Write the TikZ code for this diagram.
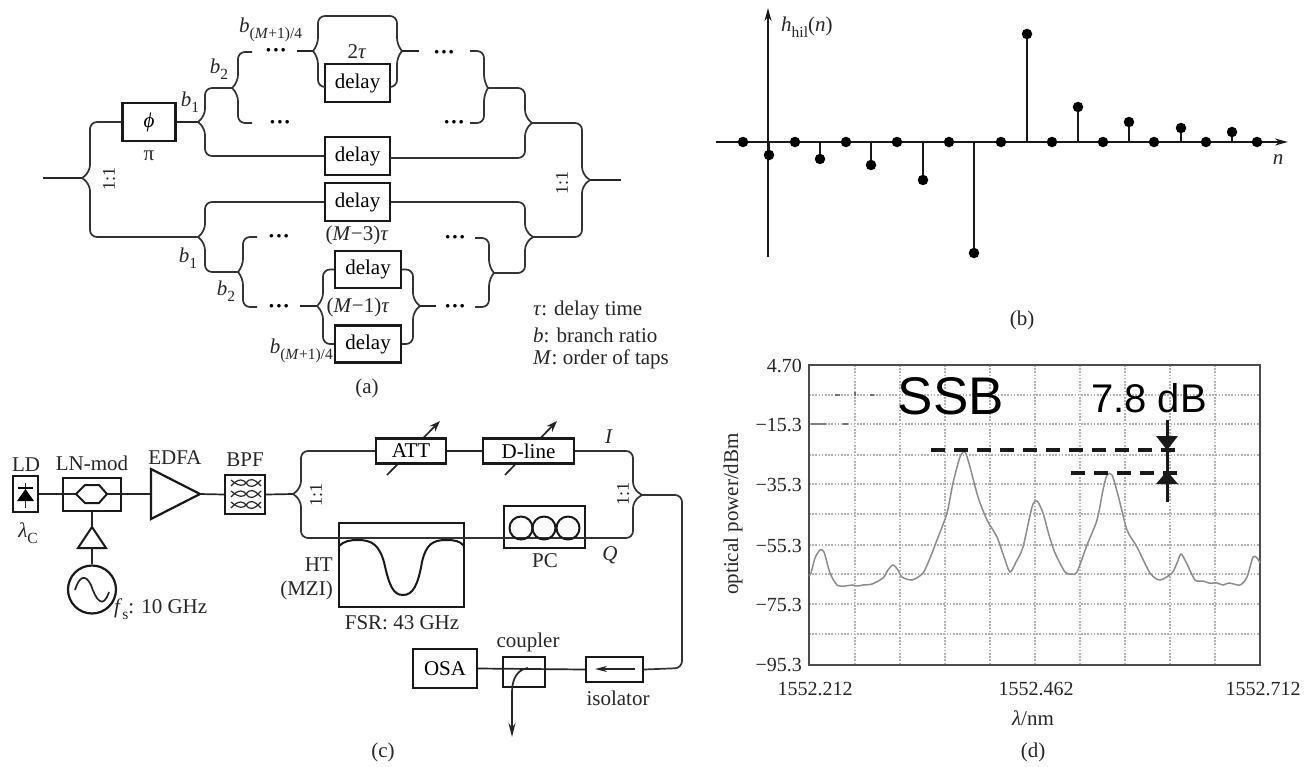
\documentclass[tikz,border=0pt]{standalone}
\usepackage{fontspec}
\setmainfont{Liberation Serif}
\newfontfamily\sansf{Liberation Sans}
\usetikzlibrary{arrows.meta}
\newcommand{\itx}[1]{\textit{#1}}
\newcommand{\subx}[1]{\raisebox{-.28em}{\fontsize{15.5}{15.5}\selectfont #1}}
\newcommand{\forkline}[4]{\draw[wire] (#1) -- ++(#2,#3) |- (#4);}
\tikzset{
  x=1pt,y=-1pt,
  wire/.style={line width=1.7pt,color=black!80,rounded corners=7pt},
  plain/.style={line width=1.7pt,color=black!85},
  dbox/.style={draw=black!90,line width=2.2pt,inner sep=0pt,fill=white,font=\fontsize{21}{24}\selectfont},
  obox/.style={draw=black!90,line width=2.2pt,inner sep=0pt},
  lab/.style={inner sep=0pt,text=black!85,font=\fontsize{21}{24}\selectfont},
  ticklab/.style={inner sep=0pt,text=black!85,font=\fontsize{20}{24}\selectfont},
  ratio/.style={inner sep=0pt,text=black!85,font=\fontsize{18}{20}\selectfont,rotate=90},
  dotsn/.style={inner sep=0pt,font=\bfseries\fontsize{22}{22}\selectfont},
  griddot/.style={line width=1.2pt,color=black!30,dash pattern=on 1.6pt off 1.6pt},
  stem/.style={line width=1.7pt,color=black!90},
  blob/.style={circle,fill=black,inner sep=0pt,minimum size=10.5pt},
  thickdash/.style={line width=3.2pt,color=black!90,dash pattern=on 13.5pt off 9.5pt},
}
\begin{document}
\begin{tikzpicture}
\useasboundingbox (0,0) rectangle (1314,766);
% ======= (a) =======
\node[dbox,minimum width=53,minimum height=38] (phi) at (149,122) {\itx{ϕ}};
\node[dbox,minimum width=65,minimum height=38] (d1) at (357.5,83) {delay};
\node[dbox,minimum width=65,minimum height=38] (d2) at (357.5,156) {delay};
\node[dbox,minimum width=65,minimum height=38] (d3) at (357.5,202) {delay};
\node[dbox,minimum width=66,minimum height=37] (d4) at (368,269.5) {delay};
\node[dbox,minimum width=66,minimum height=37] (d5) at (368,344) {delay};
\coordinate (in) at (43,178);
\coordinate (s0) at (82,178);
\coordinate (out) at (621,180);
\coordinate (s0r) at (590,180);
\coordinate (mTop) at (198,122);
\coordinate (mBot) at (198,237);
\coordinate (mTopR) at (532,123);
\coordinate (mBotR) at (533,237);
\draw[plain] (in) -- (s0);
\draw[plain] (s0r) -- (out);
\forkline{s0}{8}{-6}{phi.west}
\forkline{s0}{8}{6}{mBot}
\draw[plain] (phi.east) -- (mTop);
% upper tree
\coordinate (u2) at (232,88);
\coordinate (u2a) at (252,52);
\coordinate (u2b) at (252,123);
\coordinate (u3) at (313,51);
\coordinate (u3o) at (297,51);
\coordinate (u4) at (402,51);
\coordinate (u4o) at (419,51);
\coordinate (topl) at (357,16);
\coordinate (u5) at (488,88);
\coordinate (u5a) at (470,51);
\coordinate (u5b) at (470,123);
\coordinate (d1l) at (325,87);
\coordinate (d1r) at (390,87);
\coordinate (d2r) at (390,158);
\forkline{mTop}{7}{-6}{u2}
\draw[wire] (mTop) -- ++(7,6) |- (d2.west);
\forkline{u2}{6}{-6}{u2a}
\forkline{u2}{6}{6}{u2b}
\draw[plain] (u3o) -- (u3);
\draw[wire] (u3) -- ++(5,-6) |- (topl);
\forkline{u3}{5}{6}{d1l}
\draw[wire] (u4) -- ++(-5,-6) |- (topl);
\forkline{u4}{-5}{6}{d1r}
\draw[plain] (u4) -- (u4o);
\forkline{u5}{-4}{-6}{u5a}
\forkline{u5}{-4}{6}{u5b}
\forkline{mTopR}{-7}{-6}{u5}
\forkline{mTopR}{-7}{6}{d2r}
\draw[wire] (mTopR) -- (582,123) -- (582,174) -- (s0r);
\draw[wire] (s0r) -- (582,186) -- (582,237) -- (mBotR);
\node[dotsn] (du1) at (276,53) {···};
\node[dotsn] (du2) at (280,125) {···};
\node[dotsn] (du3) at (444,55) {···};
\node[dotsn] (du4) at (454,125) {···};
% lower tree
\coordinate (l2) at (238,272);
\coordinate (l2a) at (257,237);
\coordinate (l2b) at (257,307);
\coordinate (l3) at (317,306);
\coordinate (l3o) at (300,306);
\coordinate (l4) at (420,306);
\coordinate (l4o) at (436,306);
\coordinate (l5) at (494,273);
\coordinate (l5a) at (475,238);
\coordinate (l5b) at (475,307);
\forkline{mBot}{7}{-6}{d3.west}
\draw[wire] (mBot) -- ++(7,6) |- (l2);
\forkline{l2}{5}{-6}{l2a}
\forkline{l2}{5}{6}{l2b}
\draw[plain] (l3o) -- (l3);
\forkline{l3}{6}{-6}{d4.west}
\forkline{l3}{6}{6}{d5.west}
\forkline{l4}{-7}{-6}{d4.east}
\forkline{l4}{-7}{6}{d5.east}
\draw[plain] (l4) -- (l4o);
\forkline{l5}{-5}{-6}{l5a}
\forkline{l5}{-5}{6}{l5b}
\forkline{mBotR}{-8}{-6}{d3.east}
\forkline{mBotR}{-8}{6}{l5}
\node[dotsn] (dl1) at (279,239) {···};
\node[dotsn] (dl2) at (279,309) {···};
\node[dotsn] (dl3) at (455,240) {···};
\node[dotsn] (dl4) at (455,309) {···};
% labels (a)
\node[lab] (pi) at (149,156) {π};
\node[ratio] (r1) at (109,179) {1:1};
\node[ratio] (r2) at (562,183) {1:1};
\node[lab] (b1u) at (190,102) {\itx{b}\subx{1}};
\node[lab] (b2u) at (219,69) {\itx{b}\subx{2}};
\node[lab,anchor=west] (bmu) at (239,30) {\itx{b}\subx{(\itx{M}+1)/4}};
\node[lab] (t2) at (357,52) {2\itx{τ}};
\node[lab] (m3) at (357,235) {(\itx{M}−3)\itx{τ}};
\node[lab] (m1) at (358,307) {(\itx{M}−1)\itx{τ}};
\node[lab] (b1l) at (188,258) {\itx{b}\subx{1}};
\node[lab] (b2l) at (226,291) {\itx{b}\subx{2}};
\node[lab,anchor=east] (bml) at (333,351) {\itx{b}\subx{(\itx{M}+1)/4}};
\node[lab,anchor=west] (k1) at (533,310) {\itx{τ}: delay time};
\node[lab,anchor=west] (k2) at (533,335) {\itx{b}: branch ratio};
\node[lab,anchor=west] (k3) at (533,359) {\itx{M}: order of taps};
\node[lab] (capa) at (367,388) {(a)};
% ======= (b) =======
\coordinate (yb) at (768,257);
\coordinate (yt) at (768,8);
\coordinate (xl) at (716,142);
\coordinate (xr) at (1288,142);
\draw[stem,-{Stealth[length=13pt,width=7pt]}] (yb) -- (yt);
\draw[stem,-{Stealth[length=13pt,width=7pt]}] (xl) -- (xr);
\foreach \i/\xx in {1/743,2/795,3/846,4/897,5/949,6/1001,7/1052,8/1103,9/1154,10/1206,11/1257}{
  \node[blob] (z\i) at (\xx,142) {};
}
\foreach \i/\xx/\yy in {1/769/155,2/820/159,3/871/165,4/923/180,5/974/253,6/1027/34,7/1078/107,8/1129/122,9/1181/128,10/1232/132}{
  \coordinate (base\i) at (\xx,142);
  \node[blob] (h\i) at (\xx,\yy) {};
  \draw[stem] (base\i) -- (h\i);
}
\node[lab,anchor=west] (hlab) at (781,27) {\itx{h}\subx{hil}(\itx{n})};
\node[lab] (nlab) at (1278,160) {\itx{n}};
\node[lab] (capb) at (1022,320) {(b)};
% ======= (c) =======
\coordinate (swi) at (293,494);
\coordinate (swo) at (642,495);
\coordinate (att1) at (387,475); \coordinate (att2) at (440,421);
\coordinate (dl1c) at (505,475); \coordinate (dl2c) at (557,421);
\draw[plain,-{Stealth[length=11pt,width=8pt]}] (att1) -- (att2);
\draw[plain,-{Stealth[length=11pt,width=8pt]}] (dl1c) -- (dl2c);
\node[dbox,minimum width=25,minimum height=36] (ld) at (25.5,494) {};
\node[dbox,minimum width=58,minimum height=33,fill=none] (lnm) at (92,494.5) {};
\node[dbox,minimum width=40,minimum height=39] (bpf) at (245,494.5) {};
\node[dbox,minimum width=70,minimum height=25] (att) at (411,451) {ATT};
\node[dbox,minimum width=91,minimum height=25] (dline) at (528.5,451) {D-line};
\node[obox,minimum width=125,minimum height=84] (ht) at (401.5,565) {};
\node[obox,minimum width=81,minimum height=42] (pc) at (544.5,527) {};
\node[dbox,minimum width=57,minimum height=25] (iso) at (614.5,669.5) {};
\node[obox,minimum width=42,minimum height=30] (cpl) at (524,672) {};
\node[dbox,minimum width=64,minimum height=39] (osa) at (445,668.5) {OSA};
\node[draw=black!90,line width=2.2pt,circle,inner sep=0pt,minimum size=48pt] (osc) at (92,589.5) {};
\coordinate (edt) at (151,494);
\coordinate (eda) at (200,494);
\draw[line width=2.2pt,color=black!90,line join=miter] (151,469) -- (eda) -- (151,519) -- cycle;
\coordinate (amt) at (92,527);
\coordinate (amb) at (92,548);
\draw[line width=2pt,color=black!90] (amt) -- (106,548) -- (78,548) -- cycle;
\draw[plain] (ld.east) -- (76,494);
\draw[plain] (107,494) -- (edt);
\draw[line width=2pt,color=black!90] (76,494) -- (85,485) -- (99,485) -- (107,494) -- (99,503) -- (85,503) -- cycle;
\draw[plain] (lnm.south) -- (amt);
\draw[plain] (amb) -- (osc.north);
\draw[plain] (eda) -- (bpf.west);
\draw[plain] (bpf.east) -- (swi);
% LD diode
\draw[plain] (25.5,483) -- (25.5,508);
\draw[line width=1.5pt,color=black] (18,488) -- (33,488);
\fill[black] (25.5,489) -- (34,501) -- (17,501) -- cycle;
% sine
\draw[plain] (75,590) .. controls (79,577) and (85,573) .. (91,585) .. controls (96,600) and (103,610) .. (109,592);
% BPF waves
\foreach \yy in {483,494,505}{
  \draw[line width=1.2pt,color=black!85] (231,\yy+3) .. controls (239,\yy-6) and (244,\yy-3) .. (246,\yy) .. controls (249,\yy+5) and (254,\yy+5) .. (261,\yy-3);
  \draw[line width=1.2pt,color=black!85] (231,\yy-3) .. controls (239,\yy+4) and (244,\yy+3) .. (246,\yy) .. controls (249,\yy-5) and (254,\yy-5) .. (261,\yy+3);
}
% interferometer
\draw[wire] (swi) -- ++(8,-6) |- (att.west);
\draw[plain] (att.east) -- (dline.west);
\draw[wire] (dline.east) -| (633,489) -- (swo);
\draw[wire] (swi) -- ++(8,6) |- (633,538) -- (633,501) -- (swo);
\draw[wire] (swo) -- (682,495) -- (682,668) -- (iso.east);
\draw[plain] (iso.west) -- (osa.east);
\draw[plain,-{Stealth[length=12pt,width=6pt]}] (635,669) -- (595,669);
% PC
\foreach \i/\xx in {1/521,2/544,3/568}{
  \node[draw=black!90,line width=2pt,circle,inner sep=0pt,minimum size=23pt] (pc\i) at (\xx,528) {};
}
% HT curve
\draw[line width=2pt,color=black!90] (339,546) .. controls (344,541) and (350,540) .. (358,540) .. controls (372,540) and (379,545) .. (384,562) .. controls (389,585) and (393,595) .. (403,595) .. controls (413,595) and (418,585) .. (422,562) .. controls (426,545) and (432,540) .. (446,540) .. controls (455,540) and (460,541) .. (464,546);
% coupler
\coordinate (cplend) at (512,737);
\draw[plain,-{Stealth[length=14pt,width=7pt]}] (528,668) .. controls (519,669) and (512,677) .. (512,692) -- (cplend);
% labels (c)
\node[lab] (ldl) at (26,465) {LD};
\node[lab] (lam) at (28,533) {\itx{λ}\subx{C}};
\node[lab] (lnl) at (92,463) {LN-mod};
\node[lab] (edl) at (175,458) {EDFA};
\node[lab] (bpl) at (245,460) {BPF};
\node[lab,anchor=west] (fsl) at (114,609) {\itx{f}\subx{s}: 10 GHz};
\node[ratio] (r3) at (316,495) {1:1};
\node[ratio] (r4) at (623,494) {1:1};
\node[lab] (il) at (609,437) {\itx{I}};
\node[lab] (ql) at (610,555) {\itx{Q}};
\node[lab] (pcl) at (545,561) {PC};
\node[lab,anchor=east] (htl) at (333,565) {HT};
\node[lab,anchor=east] (mzl) at (333,590) {(MZI)};
\node[lab] (fsrl) at (402,623) {FSR: 43 GHz};
\node[lab] (cpll) at (528,642) {coupler};
\node[lab] (isol) at (618,698) {isolator};
\node[lab] (capc) at (383,752) {(c)};
% ======= (d) =======
\foreach \yy in {395,424,455,484,514,545,574,604,634}{\draw[griddot] (809,\yy) -- (1260,\yy);}
\foreach \xx in {855,900,945,990,1035,1080,1125,1170,1215}{\draw[griddot] (\xx,365) -- (\xx,665);}
\draw[line width=1.6pt,color=black!70] (809,665) -- (809,365) -- (1260,365) -- (1260,665) -- cycle;
% specks
\draw[line width=2.5pt,color=black!50] (811,424) -- (826,424);
\draw[line width=2pt,color=black!55] (843,424) -- (848,424);
\draw[line width=2pt,color=black!55] (835,395) -- (840,395);
\draw[line width=2.5pt,color=black!55] (855,392) -- (855,396);
\draw[line width=2pt,color=black!55] (870,395) -- (874,395);
% trace
\draw[line width=1.5pt,color=black!45] plot[smooth,tension=.45] coordinates {
(809,576) (811,573) (815,558) (820,550) (824,552) (830,573) (837,585) (845,586) (852,585) (858,586) (863,585) (872,584) (883,578) (888,570) (893,565) (898,570) (902,577) (912,580) (923,573) (930,558) (937,540) (947,513) (953,483) (960,457) (965,452) (970,467) (978,497) (987,520) (997,537) (1004,557) (1010,572) (1016,562) (1023,547) (1032,507) (1037,501) (1043,513) (1049,535) (1055,553) (1065,572) (1071,574) (1077,572) (1087,545) (1097,520) (1103,490) (1107,475) (1112,475) (1118,495) (1127,530) (1137,547) (1150,573) (1160,580) (1172,573) (1177,563) (1181,554) (1186,562) (1195,580) (1203,581) (1209,583) (1217,583) (1223,585) (1229,583) (1240,585) (1247,577) (1253,557) (1257,558) (1260,563)};
\coordinate (dsh1a) at (931,450); \coordinate (dsh1b) at (1178,450);
\coordinate (dsh2a) at (1071,473); \coordinate (dsh2b) at (1178,473);
\coordinate (vt) at (1167,420); \coordinate (vb) at (1167,502);
\draw[thickdash] (dsh1a) -- (dsh1b);
\draw[thickdash] (dsh2a) -- (dsh2b);
\draw[line width=3pt,color=black!90] (vt) -- (vb);
\fill[black!90] (1156,436) -- (1178,436) -- (1167,450) -- cycle;
\fill[black!90] (1156,484) -- (1178,484) -- (1167,471) -- cycle;
\node[inner sep=0pt,font=\sansf\fontsize{53}{53}\selectfont] (ssb) at (951,396) {SSB};
\node[inner sep=0pt,font=\sansf\fontsize{40}{40}\selectfont] (db) at (1149,398) {7.8 dB};
\foreach \i/\yy/\tt in {1/366/4.70,2/425/−15.3,3/485/−35.3,4/546/−55.3,5/605/−75.3,6/665/−95.3}{
  \node[ticklab,anchor=east] (yl\i) at (802,\yy) {\tt};
}
\node[ticklab] (xl1) at (815,689) {1552.212};
\node[ticklab] (xl2) at (1036,689) {1552.462};
\node[ticklab] (xl3) at (1263,689) {1552.712};
\node[lab] (xt) at (1033,718) {\itx{λ}/nm};
\node[lab,rotate=90] (yt2) at (733,514) {optical power/dBm};
\node[lab] (capd) at (1033,752) {(d)};
\end{tikzpicture}
\end{document}
